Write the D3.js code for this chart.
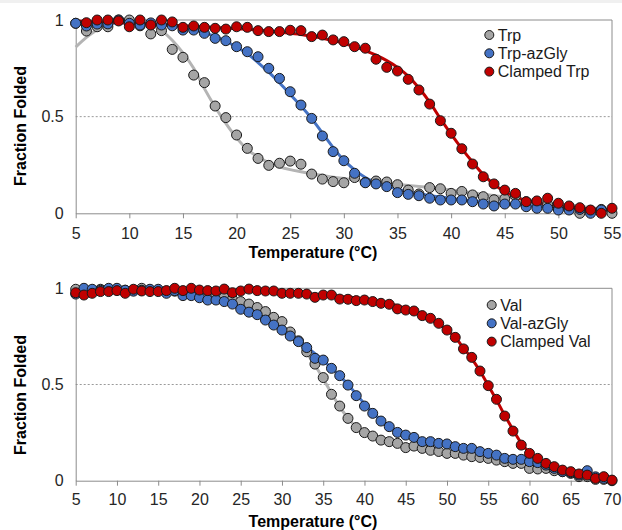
<!DOCTYPE html>
<html>
<head>
<meta charset="utf-8">
<script src="https://cdn.jsdelivr.net/npm/d3@7"></script>
<style>
  html, body { margin: 0; padding: 0; background: #fff; }
  svg { display: block; font-family: "Liberation Sans", Arial, sans-serif; }
</style>
</head>
<body>
<svg id="chart" width="622" height="530"></svg>
<script>
// ---------- DATA ----------
// Top panel: Trp series, temperatures 5..55 °C
const topTemps = d3.range(5, 56);
const trp = [0.983,0.943,0.965,0.965,1.0,1.0,0.97,0.928,0.945,0.848,0.807,0.715,0.676,0.555,0.495,0.405,0.336,0.284,0.248,0.259,0.27,0.254,0.203,0.177,0.164,0.158,0.185,0.16,0.167,0.162,0.148,0.12,0.1,0.133,0.127,0.103,0.113,0.095,0.086,0.07,0.075,0.09,0.06,0.06,0.045,0.026,0.03,0.0,0.015,0.02,0.0];
const trpAzGly = [0.983,0.969,0.979,0.98,1.0,0.983,0.974,0.985,0.974,0.97,0.948,0.948,0.931,0.905,0.893,0.862,0.836,0.81,0.75,0.698,0.629,0.56,0.491,0.4,0.319,0.272,0.207,0.158,0.152,0.138,0.107,0.098,0.091,0.078,0.069,0.069,0.069,0.06,0.048,0.038,0.048,0.048,0.034,0.026,0.026,0.017,0.017,0.02,0.0,0.017,null];
const clampedTrp = [null,0.986,1.0,1.0,0.995,0.965,1.0,0.974,1.0,0.99,0.962,0.969,0.962,0.957,0.953,0.965,0.962,0.945,0.94,0.94,0.947,0.945,0.914,0.922,0.897,0.888,0.862,0.854,0.797,0.755,0.736,0.693,0.638,0.565,0.479,0.414,0.334,0.255,0.189,0.152,0.12,0.103,0.06,0.064,0.078,0.052,0.038,0.029,0.017,0.0,0.026];

// Fitted curves (top panel)
const trpFitT = [5,6,7,8,9,10,11,12,13,14,15,16,17,18,19,20,21,22,23,24,25,26,27,28,30,32,35,38,40,45,50,55];
const trpFit  = [0.86,0.91,0.95,0.975,0.99,0.995,0.99,0.975,0.945,0.895,0.83,0.75,0.645,0.55,0.465,0.39,0.33,0.293,0.262,0.241,0.226,0.215,0.205,0.196,0.18,0.167,0.15,0.133,0.12,0.085,0.05,0.015];
const trpAzFitT = [5,10,12,14,16,18,19,20,21,22,23,24,25,26,27,28,29,30,31,32,33,34,35,36,38,40,42,45,50,55];
const trpAzFit  = [0.985,0.985,0.98,0.97,0.95,0.915,0.89,0.86,0.825,0.78,0.73,0.675,0.615,0.555,0.49,0.415,0.34,0.275,0.225,0.185,0.158,0.14,0.125,0.112,0.092,0.077,0.065,0.05,0.03,0.015];
const clTrpFitT = [5,10,15,20,22,24,26,28,30,31,32,33,34,35,36,37,38,39,40,41,42,43,44,45,46,47,48,50,52,55];
const clTrpFit  = [0.995,0.985,0.97,0.955,0.948,0.937,0.925,0.905,0.88,0.862,0.842,0.818,0.79,0.755,0.71,0.648,0.575,0.49,0.41,0.335,0.265,0.2,0.15,0.112,0.085,0.066,0.054,0.04,0.028,0.018];

// Bottom panel: Val series, temperatures 5..70 °C
const botTemps = d3.range(5, 71);
const val = [0.995,0.99,0.99,0.995,0.99,0.995,0.99,0.99,1.0,0.99,0.99,0.985,0.985,0.975,0.98,0.97,0.965,0.965,0.953,0.943,0.931,0.918,0.9,0.879,0.849,0.827,0.773,0.727,0.67,0.606,0.536,0.449,0.388,0.324,0.276,0.25,0.232,0.211,0.203,0.194,0.172,0.18,0.168,0.158,0.152,0.142,0.142,0.133,0.125,0.121,0.116,0.107,0.099,0.09,0.09,0.064,0.061,0.064,0.052,0.047,0.038,0.021,0.021,0.007,0.007,0.0];
const valAzGly = [0.97,1.0,0.995,0.99,1.0,1.0,0.99,0.985,0.99,0.995,0.995,0.974,0.988,0.962,0.962,0.951,0.939,0.939,0.931,0.918,0.891,0.876,0.863,0.835,0.809,0.783,0.752,0.723,0.692,0.636,0.627,0.584,0.546,0.497,0.442,0.388,0.35,0.31,0.281,0.251,0.237,0.225,0.203,0.203,0.194,0.191,0.177,0.168,0.168,0.151,0.142,0.133,0.116,0.111,0.111,0.099,0.094,0.081,0.064,0.047,0.042,0.029,0.052,0.02,0.012,null];
const clampedVal = [0.977,0.965,0.974,0.983,0.983,0.988,0.974,0.995,0.986,0.983,0.983,0.988,1.0,0.988,1.0,0.991,0.988,0.986,0.996,0.977,0.986,0.996,0.988,0.986,0.986,0.974,0.974,0.974,0.97,0.953,0.965,0.965,0.944,0.943,0.936,0.939,0.931,0.922,0.917,0.893,0.887,0.882,0.858,0.844,0.818,0.783,0.745,0.685,0.641,0.57,0.494,0.423,0.336,0.258,0.185,0.142,0.116,0.09,0.073,0.055,0.047,0.035,0.029,0.012,0.021,0.003];

const valFitT = [5,10,15,18,20,22,24,25,26,27,28,29,30,31,32,33,34,35,36,37,38,39,40,41,42,43,44,46,48,50,52,55,58,60,62,65,68,70];
const valFit  = [0.995,0.993,0.99,0.985,0.975,0.96,0.94,0.925,0.91,0.89,0.865,0.84,0.805,0.765,0.72,0.665,0.6,0.53,0.455,0.385,0.325,0.28,0.25,0.228,0.213,0.2,0.19,0.175,0.162,0.148,0.135,0.115,0.093,0.078,0.064,0.043,0.022,0.008];
const valAzFitT = [5,15,18,20,22,24,26,28,30,32,34,35,36,37,38,39,40,41,42,43,44,45,46,48,50,52,55,58,60,62,65,68,70];
const valAzFit  = [0.99,0.985,0.97,0.955,0.935,0.91,0.88,0.84,0.79,0.73,0.66,0.625,0.585,0.545,0.5,0.45,0.4,0.355,0.315,0.283,0.258,0.24,0.226,0.205,0.19,0.175,0.148,0.12,0.1,0.082,0.055,0.03,0.015];
const clValFitT = [5,20,25,30,35,38,40,42,44,45,46,47,48,49,50,51,52,53,54,55,56,57,58,59,60,61,62,63,64,66,68,70];
const clValFit  = [0.998,0.99,0.985,0.978,0.965,0.955,0.945,0.93,0.91,0.895,0.878,0.86,0.84,0.815,0.783,0.745,0.69,0.635,0.57,0.495,0.42,0.34,0.265,0.195,0.145,0.108,0.085,0.068,0.055,0.035,0.018,0.005];

const topNames = ["Trp", "Trp-azGly", "Clamped Trp"];
const botNames = ["Val", "Val-azGly", "Clamped Val"];
const colors = ["#a5a5a5", "#4472c4", "#c00000"];
const lineColors = ["#b4b4b4", "#4472c4", "#c00000"];
const yTicks = [0, 0.5, 1];

// ---------- DRAWING ----------
const svg = d3.select("#chart");
svg.append("rect").attr("x", 0).attr("y", 0).attr("width", 622).attr("height", 3).attr("fill", "#f0f0f0");

function panel(opts) {
  const x = d3.scaleLinear().domain(opts.xDomain).range([75.7, 612]);
  const y = d3.scaleLinear().domain([0, 1]).range([opts.bottom, opts.top]);
  const g = svg.append("g");

  // frame (top/right)
  g.append("path")
    .attr("d", `M${x.range()[0]},${opts.top}H${x.range()[1]}V${opts.bottom}`)
    .attr("fill", "none").attr("stroke", "#8c8c8c").attr("stroke-width", 1);

  // 0.5 dotted reference
  g.append("line")
    .attr("x1", x.range()[0]).attr("x2", x.range()[1])
    .attr("y1", y(0.5)).attr("y2", y(0.5))
    .attr("stroke", "#9a9a9a").attr("stroke-width", 1).attr("stroke-dasharray", "2,2");

  // axes
  const xAxis = d3.axisBottom(x).tickValues(opts.xTicks).tickFormat(d3.format("d"))
    .tickSize(5).tickSizeOuter(0).tickPadding(opts.xPad);
  const gx = g.append("g").attr("transform", `translate(0,${opts.bottom})`).call(xAxis);
  gx.select(".domain").attr("stroke", "#8c8c8c");
  gx.selectAll(".tick line").attr("stroke", "#8c8c8c");
  gx.selectAll("text").attr("font-size", 16).attr("fill", "#262626").attr("font-family", "Liberation Sans, Arial, sans-serif");

  const yAxis = d3.axisLeft(y).tickValues(yTicks).tickFormat(d => d === 0.5 ? "0.5" : d3.format("d")(d))
    .tickSize(0).tickSizeOuter(0).tickPadding(12);
  const gy = g.append("g").attr("transform", `translate(${x.range()[0]},0)`).call(yAxis);
  gy.select(".domain").attr("stroke", "#8c8c8c");
  gy.selectAll("text").attr("font-size", 16).attr("fill", "#262626").attr("font-family", "Liberation Sans, Arial, sans-serif");

  // fitted curves
  const line = d3.line().x(d => x(d[0])).y(d => y(d[1])).curve(d3.curveMonotoneX);
  opts.fits.forEach((f, i) => {
    g.append("path").datum(d3.zip(f[0], f[1]))
      .attr("d", line).attr("fill", "none")
      .attr("stroke", lineColors[i]).attr("stroke-width", 3);
  });

  // points
  opts.series.forEach((s, i) => {
    const pts = d3.zip(opts.temps, s).filter(d => d[1] !== null);
    g.append("g").selectAll("circle").data(pts).join("circle")
      .attr("cx", d => x(d[0])).attr("cy", d => y(d[1])).attr("r", 5)
      .attr("fill", colors[i]).attr("stroke", "#1a1a1a").attr("stroke-width", 1);
  });

  // legend
  const lg = g.append("g");
  opts.names.forEach((n, i) => {
    const cy = opts.legendY + i * 18.3;
    lg.append("circle").attr("cx", opts.legendX).attr("cy", cy).attr("r", 4.5)
      .attr("fill", colors[i]).attr("stroke", "#1a1a1a").attr("stroke-width", 1);
    lg.append("text").attr("x", opts.legendX + 8.5).attr("y", cy).attr("dy", "0.36em")
      .attr("font-size", 16).attr("fill", "#1a1a1a").text(n);
  });

  // axis titles
  g.append("text").attr("x", 313).attr("y", opts.xTitleY).attr("text-anchor", "middle")
    .attr("font-size", 16).attr("font-weight", "bold").attr("fill", "#000")
    .text("Temperature (°C)");
  g.append("text").attr("transform", `translate(26,${opts.yTitleY}) rotate(-90)`)
    .attr("text-anchor", "middle")
    .attr("font-size", 16).attr("font-weight", "bold").attr("fill", "#000")
    .text("Fraction Folded");
}

panel({
  xDomain: [5, 55], xTicks: d3.range(5, 56, 5), top: 20, bottom: 213.3, xPad: 9,
  temps: topTemps, series: [trp, trpAzGly, clampedTrp],
  fits: [[trpFitT, trpFit], [trpAzFitT, trpAzFit], [clTrpFitT, clTrpFit]],
  names: topNames, legendX: 489.3, legendY: 35, xTitleY: 258, yTitleY: 126
});
panel({
  xDomain: [5, 70], xTicks: d3.range(5, 71, 5), top: 288.3, bottom: 480.7, xPad: 8,
  temps: botTemps, series: [val, valAzGly, clampedVal],
  fits: [[valFitT, valFit], [valAzFitT, valAzFit], [clValFitT, clValFit]],
  names: botNames, legendX: 491.7, legendY: 305, xTitleY: 527, yTitleY: 395
});
</script>
</body>
</html>
